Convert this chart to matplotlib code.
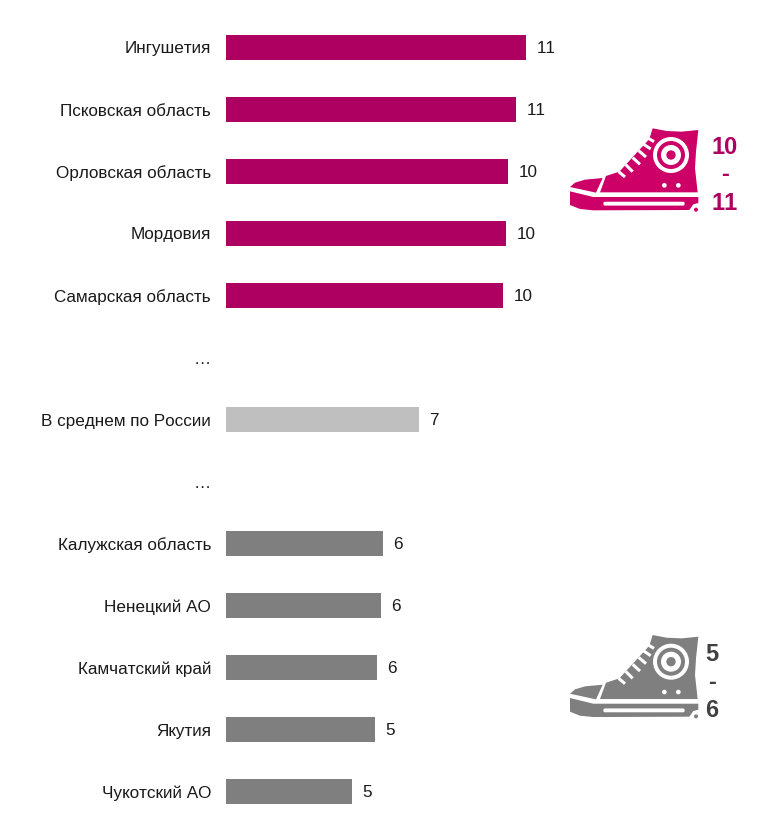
import matplotlib
matplotlib.use("Agg")
import matplotlib.pyplot as plt
from matplotlib.patches import Polygon, Circle, FancyBboxPatch

plt.rcParams['font.family'] = ['Liberation Sans', 'DejaVu Sans']
plt.rcParams['text.kerning_factor'] = 6

categories = ["Ингушетия", "Псковская область", "Орловская область", "Мордовия",
              "Самарская область", "…", "В среднем по России", "…",
              "Калужская область", "Ненецкий АО", "Камчатский край", "Якутия", "Чукотский АО"]
values = [10.99, 10.62, 10.33, 10.26, 10.15, None, 7.07, None, 5.75, 5.68, 5.53, 5.46, 4.62]
value_labels = ["11", "11", "10", "10", "10", "", "7", "", "6", "6", "6", "5", "5"]
bar_colors = ["#AD0060"] * 5 + ["none", "#BFBFBF", "none"] + ["#7F7F7F"] * 5
range_top = ["10", "-", "11"]
range_bottom = ["5", "-", "6"]

W, H = 769, 813
PX_PER_UNIT = 27.3
fig = plt.figure(figsize=(W / 100, H / 100), dpi=100, facecolor="white")
ax = fig.add_axes([226 / W, 0, (W - 226) / W, 1])
pos = list(range(len(categories)))
widths = [0 if v is None else v for v in values]
ax.barh(pos, widths, height=25 / 62, color=bar_colors, linewidth=0)
ax.set_xlim(0, (W - 226) / PX_PER_UNIT)
ax.set_ylim((H - 47.5) / 62, -47.5 / 62)
ax.set_yticks(pos)
ax.set_yticklabels(categories, fontsize=12.3, color="#1a1a1a")
ax.tick_params(axis="y", length=0, pad=10.8)
ax.set_xticks([])
for s in ax.spines.values():
    s.set_visible(False)
ax.patch.set_alpha(0)
for p, v, t in zip(pos, values, value_labels):
    if v is not None:
        ax.annotate(t, (v, p), xytext=(7.5, -0.5), textcoords="offset points",
                    ha="left", va="center", fontsize=12.3, color="#1a1a1a")

# Decorative sneaker icons in pixel coordinates
ov = fig.add_axes([0, 0, 1, 1])
ov.set_xlim(0, W)
ov.set_ylim(H, 0)
ov.axis("off")
ov.patch.set_alpha(0)

LACES = [((176, 170), (195, 186)), ((197, 149), (218, 170)), ((218, 128), (240, 148)),
         ((236, 107), (258, 126)), ((250, 87), (272, 102)), ((262, 68), (282, 80))]


def sneaker(x0, y0, color):
    def P(x, y):
        return (x0 + x / 3, y0 + y / 3)

    def poly(pts, c=color, z=3):
        ov.add_patch(Polygon([P(*q) for q in pts], closed=True, fc=c, ec="none", zorder=z))

    def circ(x, y, r, c, z):
        ov.add_patch(Circle(P(x, y), r / 3, fc=c, ec="none", zorder=z))

    poly([(278, 40), (320, 48), (365, 50), (415, 45), (408, 110), (405, 160), (413, 232),
          (120, 232), (138, 183), (178, 170), (268, 72)])
    poly([(30, 216), (45, 203), (75, 194), (128, 189), (108, 233)])
    poly([(30, 229), (100, 246), (415, 246), (415, 264), (400, 268), (388, 285),
          (100, 286), (60, 282), (30, 270)])
    ov.add_patch(FancyBboxPatch(P(132, 262), 240 / 3, 8 / 3, boxstyle="round,pad=0.6,rounding_size=1.5",
                                fc="white", ec="none", zorder=4))
    circ(333, 120, 54, "white", 4)
    circ(333, 120, 42, color, 5)
    circ(333, 120, 30, "white", 6)
    circ(333, 120, 14, color, 7)
    circ(313, 211, 7, "white", 4)
    circ(355, 211, 7, "white", 4)
    circ(406, 282, 12, "white", 4)
    circ(408, 284, 6, color, 5)
    for a, b in LACES:
        xa, ya = P(*a)
        xb, yb = P(*b)
        ov.plot([xa, xb], [ya, yb], color="white", lw=2.2, solid_capstyle="butt", zorder=4)


sneaker(560, 115, "#CC0066")
sneaker(560, 625 - 3.3, "#7F7F7F")

for t, y in zip(range_top, [147, 175, 203]):
    ov.text(725, y, t, ha="center", va="center", fontsize=17, fontweight="bold", color="#AD0060")
for t, y in zip(range_bottom, [654, 682, 710]):
    ov.text(712, y, t, ha="center", va="center", fontsize=17, fontweight="bold", color="#404040")

fig.savefig("out.png", dpi=100, facecolor="white")
